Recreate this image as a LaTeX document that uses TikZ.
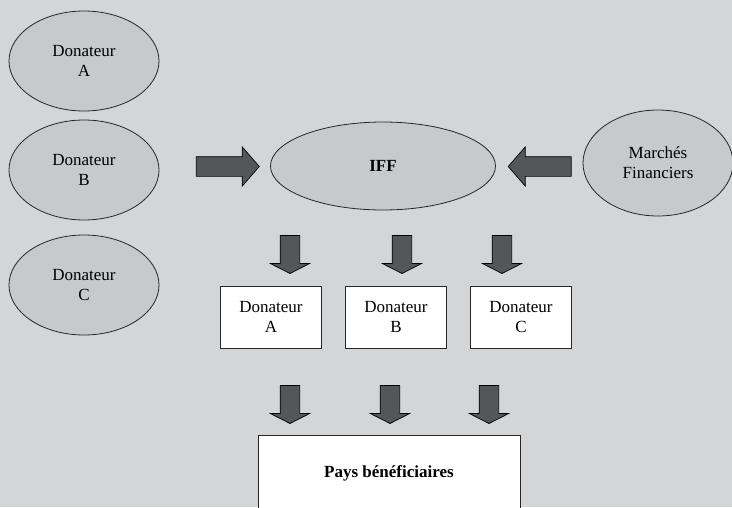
\documentclass[tikz,border=0pt]{standalone}
\usepackage{fontspec}
\setmainfont{Liberation Serif}
\usetikzlibrary{shapes.geometric,shapes.arrows}

\definecolor{paper}{RGB}{212,213,215}
\definecolor{bubble}{RGB}{200,201,203}
\definecolor{slab}{RGB}{85,86,88}

\begin{document}
\begin{tikzpicture}[x=1pt,y=-1pt,
		txt/.style={align=center,font=\fontsize{17}{20}\selectfont},
		donor/.style={
			txt,ellipse,draw=black!85,fill=bubble,line width=0.8pt,inner sep=0pt,
			minimum width=150pt,minimum height=100pt,
		},
		box/.style={
			txt,draw=black!85,fill=white,line width=0.8pt,
			minimum width=101pt,minimum height=62pt,
		},
		fat/.style={
			single arrow,draw=black,fill=slab,line width=0.7pt,
			single arrow head extend=9.75pt,
		},
		across/.style={fat,inner xsep=0pt,inner ysep=9.5pt,minimum height=63pt,single arrow tip angle=98},
		downward/.style={fat,inner xsep=9.5pt,inner ysep=0pt,minimum height=38pt,single arrow tip angle=126,shape border rotate=270},
	]

	% page
	\fill[paper] (0,0) rectangle (732,507);
	\useasboundingbox (0,0) rectangle (732,507);
	\clip (0,0) rectangle (732,507);

	% donors on the left
	\node[donor] (donA) at (84,61) {Donateur\\A};
	\node[donor] (donB) at (84,170) {Donateur\\B};
	\node[donor] (donC) at (84,285) {Donateur\\C};

	% facility and markets
	\node[donor,minimum width=225pt,minimum height=88pt,font=\fontsize{17}{20}\selectfont\bfseries] (iff) at (383,166) {IFF};
	\node[donor,minimum height=106pt] (market) at (658,163) {Marchés\\Financiers};

	\node[across] (inB) at (223.5,166.5) {};
	\node[across,shape border rotate=180] (inM) at (544,166.5) {};

	% channels
	\foreach \name/\x/\l in {A/271/A,B/396/B,C/521/C}
	\node[box] (box\name) at (\x,317) {Donateur\\\l};

	\foreach \name/\x in {A/290,B/402,C/502}
	\node[downward] (out\name) at (\x,252) {};

	\foreach \name/\x in {A/290,B/390,C/489}
	\node[downward] (pay\name) at (\x,402) {};

	% beneficiaries
	\node[box,minimum width=262pt,minimum height=76pt,font=\fontsize{17}{20}\selectfont\bfseries] (benef) at (389,473) {Pays bénéficiaires};

\end{tikzpicture}
\end{document}
